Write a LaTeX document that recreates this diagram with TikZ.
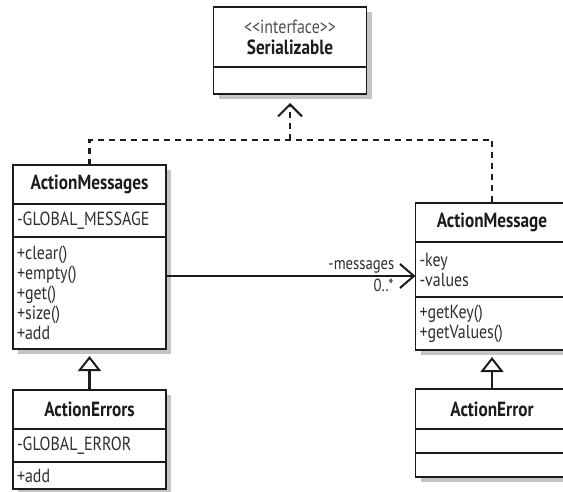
\documentclass[tikz,border=0pt]{standalone}
\usepackage{fontspec}
\setmainfont{PT Sans}[FakeStretch=0.84]
\usetikzlibrary{arrows.meta,positioning,shadows}
\definecolor{UmlInk}{HTML}{1C1C1C}
\definecolor{UmlText}{HTML}{2E2E2E}
\definecolor{UmlGray}{HTML}{505050}
\definecolor{UmlShade}{HTML}{C4C4C4}
\newcommand{\stereo}[1]{{\mdseries\fontsize{19}{20}\selectfont\color{UmlGray}<\kern0pt<#1>\kern0pt>}}
\tikzset{
  classname/.style={draw=UmlInk,line width=1.6pt,minimum width=153pt,inner sep=0pt,outer sep=0pt,align=center,
    font=\fontsize{20.5}{21}\selectfont\bfseries,text=UmlInk,fill=white,anchor=north,
    drop shadow={shadow xshift=5pt,shadow yshift=-5pt,fill=UmlShade,opacity=1}},
  classpart/.style={draw=UmlInk,line width=1.6pt,minimum width=153pt,text width=145pt,inner xsep=4pt,inner ysep=0pt,
    outer sep=0pt,align=left,font=\fontsize{19}{20}\selectfont,text=UmlText,fill=white,below=0pt of #1,
    drop shadow={shadow xshift=5pt,shadow yshift=-5pt,fill=UmlShade,opacity=1}},
  realize/.style={line width=2.4pt,draw=UmlInk,dash pattern=on 6pt off 5pt},
  barbtip/.style={-{Straight Barb[length=12pt,width=24pt,line width=2pt]}},
  inherit/.style={line width=2.2pt,draw=UmlInk,-{Triangle[open,length=15pt,width=23pt,line width=2pt,fill=white]},shorten >=7pt},
  assoc/.style={line width=2.2pt,draw=UmlInk,-{Straight Barb[length=14pt,width=24pt,line width=2pt]}},
  rolelabel/.style={font=\fontsize{17.5}{18}\selectfont,text=UmlText,inner sep=2pt}
}
\begin{document}
\begin{tikzpicture}[x=1pt,y=1pt]
\useasboundingbox (0,0) rectangle (563,491);
\fill[white] (0,0) rectangle (563,491);

% interface
\node[classname,minimum height=60pt] (serName) at (290,484) {\stereo{interface}\\Serializable};
\node[classpart=serName,minimum height=27pt] (serBody) {};

% message collection and its subclass
\node[classname,minimum height=39pt] (msgsName) at (89.5,326) {ActionMessages};
\node[classpart=msgsName,minimum height=33pt] (msgsAttr) {-GLOBAL\_MESSAGE};
\node[classpart=msgsAttr,minimum height=112pt] (msgsOps) {+clear()\\+empty()\\+get()\\+size()\\+add};

\node[classname,minimum height=39pt] (errsName) at (89.5,101) {ActionErrors};
\node[classpart=errsName,minimum height=33pt] (errsAttr) {-GLOBAL\_ERROR};
\node[classpart=errsAttr,minimum height=27pt] (errsOps) {+add};

% single message and its subclass
\node[classname,minimum height=39pt] (msgName) at (492,288) {ActionMessage};
\node[classpart=msgName,minimum height=55pt] (msgAttr) {-key\\-values};
\node[classpart=msgAttr,minimum height=53pt] (msgOps) {+getKey()\\+getValues()};

\node[classname,minimum height=40pt] (errName) at (492,102) {ActionError};
\node[classpart=errName,minimum height=24pt] (errAttr) {};
\node[classpart=errAttr,minimum height=24pt] (errOps) {};

% realization
\coordinate (hub) at (290,351);
\draw[realize] (msgsName.north) |- (hub) -| (msgName.north);
\draw[realize,barbtip,shorten >=9pt] (hub) -- (serBody.south);

% generalization
\draw[inherit] (errsName.north) -- (msgsOps.south);
\draw[inherit] (errName.north) -- (msgOps.south);

% association
\draw[assoc] (msgsOps.east |- 0,215) -- (msgAttr.west |- 0,215)
  node[rolelabel,pos=1,above left,xshift=-18pt] {-messages}
  node[rolelabel,pos=1,below left,xshift=-19pt] {0..*};
\end{tikzpicture}
\end{document}
